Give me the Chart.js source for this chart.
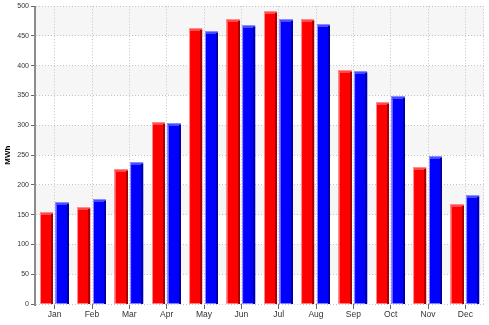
<!DOCTYPE html>
<html>
<head>
<meta charset="utf-8">
<script src="https://cdn.jsdelivr.net/npm/chart.js@4/dist/chart.umd.min.js"></script>
<style>
  html, body { margin: 0; padding: 0; background: #fff; }
  #wrap { width: 489px; height: 325px; position: relative; }
</style>
</head>
<body>
<div id="wrap"><canvas id="grafico"></canvas></div>
<script>
// dados mensais (MWh)
const meses = ['Jan', 'Feb', 'Mar', 'Apr', 'May', 'Jun', 'Jul', 'Aug', 'Sep', 'Oct', 'Nov', 'Dec'];
const serieVermelha = [153, 161, 225, 304, 462, 477, 491, 477, 392, 337, 229, 166];
const serieAzul = [170, 175, 237, 302, 457, 467, 477, 468, 389, 347, 247, 182];
const yTicks = [0, 50, 100, 150, 200, 250, 300, 350, 400, 450, 500];

// faixas cinza alternadas, borda direita pontilhada e eixo Y sólido
const faixas = {
    id: 'faixas',
    beforeDraw(chart) {
        const { ctx, chartArea: a, scales: { y } } = chart;
        ctx.save();
        ctx.fillStyle = '#f6f6f6';
        for (let v = 50; v < 500; v += 100) {
            const y1 = y.getPixelForValue(v + 50);
            const y2 = y.getPixelForValue(v);
            ctx.fillRect(a.left, y1, a.right - a.left, y2 - y1);
        }
        ctx.strokeStyle = '#c4c4c4';
        ctx.setLineDash([1, 2]);
        ctx.lineWidth = 1;
        ctx.beginPath();
        ctx.moveTo(a.right - 0.5, a.top);
        ctx.lineTo(a.right - 0.5, a.bottom);
        ctx.stroke();
        ctx.restore();
    },
    afterDraw(chart) {
        const { ctx, chartArea: a } = chart;
        ctx.save();
        ctx.strokeStyle = '#8c8c8c';
        ctx.lineWidth = 2;
        ctx.beginPath();
        ctx.moveTo(a.left - 1, a.top);
        ctx.lineTo(a.left - 1, a.bottom + 2);
        ctx.stroke();
        ctx.restore();
    }
};

// efeito 3D nas barras (brilho em cima/esquerda, sombra à direita)
const relevo = {
    id: 'relevo',
    afterDatasetsDraw(chart) {
        const ctx = chart.ctx;
        const cores = [
            { claro: '#ff8c8c', brilho: '#ff4a4a', escuro: '#a80000' },
            { claro: '#8c8cff', brilho: '#4a4aff', escuro: '#0000a0' }
        ];
        chart.data.datasets.forEach((ds, i) => {
            const c = cores[i];
            chart.getDatasetMeta(i).data.forEach(bar => {
                const { x, y, base, width } = bar.getProps(['x', 'y', 'base', 'width'], true);
                const l = Math.round(x - width / 2);
                const r = Math.round(x + width / 2);
                const t = Math.round(y);
                const b = Math.round(base);
                ctx.save();
                ctx.fillStyle = c.claro;
                ctx.fillRect(l - 1, t - 1, r - l + 1, 1);
                ctx.fillRect(l - 1, t - 1, 1, b - t + 1);
                ctx.fillStyle = c.brilho;
                ctx.fillRect(l, t, r - l, 2);
                ctx.fillStyle = c.escuro;
                ctx.fillRect(r - 2, t + 1, 2, b - t - 1);
                ctx.restore();
            });
        });
    }
};

const ctx = document.getElementById('grafico').getContext('2d');
const grafico = new Chart(ctx, {
    type: 'bar',
    data: {
        labels: meses,
        datasets: [{
            label: 'Série 1',
            data: serieVermelha,
            backgroundColor: '#ff0000',
            borderWidth: 0,
            categoryPercentage: 0.84,
            barPercentage: 0.78
        }, {
            label: 'Série 2',
            data: serieAzul,
            backgroundColor: '#0000ff',
            borderWidth: 0,
            categoryPercentage: 0.84,
            barPercentage: 0.78
        }]
    },
    options: {
        responsive: true,
        maintainAspectRatio: false,
        animation: false,
        layout: { padding: { top: 6, right: 5, left: 0, bottom: 0 } },
        plugins: {
            legend: { display: false },
            tooltip: { enabled: false }
        },
        scales: {
            x: {
                offset: true,
                grid: {
                    offset: false,
                    color: '#c4c4c4',
                    tickColor: '#666',
                    tickLength: 5
                },
                border: { display: false, dash: [1, 2] },
                ticks: {
                    color: '#333',
                    padding: 1,
                    maxRotation: 0,
                    font: { family: 'Liberation Sans', size: 8.5 }
                },
                afterFit(scale) { scale.height = 21; }
            },
            y: {
                min: 0,
                max: 500,
                afterBuildTicks(scale) { scale.ticks = yTicks.map(v => ({ value: v })); },
                grid: {
                    color: '#c4c4c4',
                    tickColor: '#666',
                    tickLength: 5
                },
                border: { display: false, dash: [1, 2] },
                ticks: {
                    color: '#333',
                    padding: 2,
                    font: { family: 'Liberation Sans', size: 7 }
                },
                title: {
                    display: true,
                    text: 'MWh',
                    color: '#000',
                    padding: { top: 3, bottom: 0 },
                    font: { family: 'Liberation Sans', size: 8, weight: 'bold' }
                },
                afterFit(scale) { scale.width = 36; }
            }
        }
    },
    plugins: [faixas, relevo]
});
</script>
</body>
</html>
